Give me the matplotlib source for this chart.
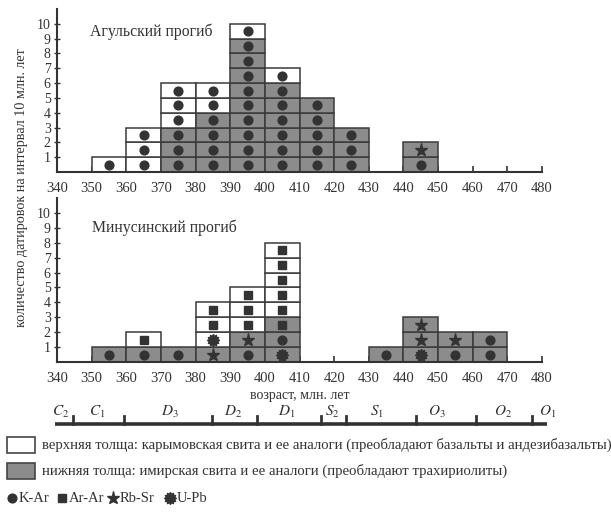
import numpy as np
import matplotlib
matplotlib.use('Agg')
import matplotlib.pyplot as plt
from matplotlib.path import Path

plt.rcParams['font.family'] = ['Liberation Serif', 'DejaVu Serif']
plt.rcParams['mathtext.fontset'] = 'stix'

# --- data: bins (left edge, Ma), lower/upper sequence counts, dating method per cell (bottom -> top)
# K = K-Ar, A = Ar-Ar, R = Rb-Sr, U = U-Pb
agul_bins = [350, 360, 370, 380, 390, 400, 410, 420, 440]
agul_lower = [0, 0, 3, 4, 9, 6, 5, 3, 2]
agul_upper = [1, 3, 3, 2, 1, 1, 0, 0, 0]
agul_methods = ['K', 'KKK', 'KKKKKK', 'KKKKKK', 'KKKKKKKKKK', 'KKKKKKK', 'KKKKK', 'KKK', 'KR']

minus_bins = [350, 360, 370, 380, 390, 400, 430, 440, 450, 460]
minus_lower = [1, 1, 1, 1, 2, 3, 1, 3, 2, 2]
minus_upper = [0, 1, 0, 3, 3, 5, 0, 0, 0, 0]
minus_methods = ['K', 'KA', 'K', 'RUAA', 'KRAAA', 'UKAAAAAA', 'K', 'URR', 'KR', 'KK']

x_ticks = list(range(340, 481, 10))
y_ticks = list(range(1, 11))

# geological time scale, drawn schematically under the age axis
scale_start, scale_end = 339.4, 481.4
scale_ticks = [344.6, 359.3, 384.7, 397.7, 416.2, 423.4, 443.6, 460.9, 477.1]
scale_labels = ['C_2', 'C_1', 'D_3', 'D_2', 'D_1', 'S_2', 'S_1', 'O_3', 'O_2', 'O_1']
scale_label_x = [340.9, 351.5, 372.6, 390.8, 406.4, 419.6, 432.4, 449.7, 468.7, 481.6]

gray = '#8c8c8c'
edge = '#3a3a3a'
mark = '#333333'

# U-Pb "gear" marker
ang = np.linspace(0, 2 * np.pi, 25)[:-1]
rad = np.where(np.arange(24) % 2 == 0, 1.0, 0.72)
upb_verts = np.column_stack([rad * np.cos(ang), rad * np.sin(ang)])
upb_marker = Path(np.vstack([upb_verts, upb_verts[:1]]), closed=True)

marker_style = {
    'K': dict(marker='o', ms=6.3),
    'A': dict(marker='s', ms=5.6),
    'R': dict(marker='*', ms=9.5),
    'U': dict(marker=upb_marker, ms=8.5),
}

W, H = 611, 515
fig = plt.figure(figsize=(W / 100, H / 100), dpi=100)


def px_axes(left, top, right, bottom):
    return [left / W, 1 - bottom / H, (right - left) / W, (bottom - top) / H]


def draw_panel(ax, bins, lower, upper, methods, title, tx, ty):
    for b, lo, up, meth in zip(bins, lower, upper, methods):
        for k in range(lo + up):
            face = gray if k < lo else 'white'
            ax.bar(b + 5, 1, bottom=k, width=10, color=face, edgecolor=edge,
                   linewidth=1.1, zorder=2)
            st = marker_style[meth[k]]
            ax.plot(b + 5, k + 0.5, linestyle='none', color=mark, mec=mark,
                    zorder=3, **st)
    ax.set_xlim(340, 480)
    ax.set_ylim(0, 11)
    ax.spines['top'].set_visible(False)
    ax.spines['right'].set_visible(False)
    ax.spines['left'].set_bounds(0, 11)
    ax.spines['bottom'].set_bounds(340, 480)
    for s in ('left', 'bottom'):
        ax.spines[s].set_linewidth(1.5)
        ax.spines[s].set_color('#333333')
    ax.set_xticks(x_ticks)
    ax.set_yticks(y_ticks)
    ax.tick_params(axis='x', direction='in', length=4, width=1.2, labelsize=10.5,
                   colors='#333333', pad=7)
    ax.tick_params(axis='y', direction='inout', length=5, width=1.0, labelsize=10,
                   colors='#333333', pad=2)
    ax.text(tx, ty, title, fontsize=11.3, color='#333333', ha='left', va='center')
    ax.patch.set_alpha(0)


ax1 = fig.add_axes(px_axes(57, 9, 542, 172))
draw_panel(ax1, agul_bins, agul_lower, agul_upper, agul_methods, 'Агульский прогиб', 349.5, 9.45)

ax2 = fig.add_axes(px_axes(57, 198, 542, 362))
draw_panel(ax2, minus_bins, minus_lower, minus_upper, minus_methods, 'Минусинский прогиб', 350, 9.0)
ax2.text(410, -2.25, 'возраст, млн. лет', fontsize=10, color='#333333', ha='center', va='center')

fig.text(22 / W, 1 - 188 / H, 'количество датировок на интервал 10 млн. лет',
         rotation=90, fontsize=10.2, color='#333333', ha='center', va='center')

# time scale
ax3 = fig.add_axes(px_axes(57, 400, 542, 430))
ax3.set_xlim(340, 480)
ax3.set_ylim(0, 1)
ax3.axis('off')
ax3.plot([scale_start, scale_end], [0.2, 0.2], color='#333333', lw=2.6,
         solid_capstyle='butt', clip_on=False)
for t in scale_ticks:
    ax3.plot([t, t], [0.2, 0.48], color='#333333', lw=2.0, clip_on=False)
for lab, lx in zip(scale_labels, scale_label_x):
    ax3.text(lx, 0.6, f'${lab}$', fontsize=11, color='#333333', ha='center', va='center')

# legend
axl = fig.add_axes([0, 0, 1, 1])
axl.set_xlim(0, W)
axl.set_ylim(H, 0)
axl.axis('off')
legend_items = [('white', 'верхняя толща: карымовская свита и ее аналоги (преобладают базальты и андезибазальты)'),
                (gray, 'нижняя толща: имирская свита и ее аналоги (преобладают трахириолиты)')]
for (face, txt), yc in zip(legend_items, [445, 471]):
    axl.add_patch(plt.Rectangle((7, yc - 8), 28, 16, facecolor=face, edgecolor='#444444', lw=1.2))
    axl.text(42, yc, txt, fontsize=10.6, color='#333333', va='center', ha='left')

method_names = [('K', 'K-Ar'), ('A', 'Ar-Ar'), ('R', 'Rb-Sr'), ('U', 'U-Pb')]
xpos = [12, 62, 113, 170]
for (code, name), xp in zip(method_names, xpos):
    st = dict(marker_style[code])
    axl.plot(xp, 498, linestyle='none', color=mark, mec=mark, **st)
    axl.text(xp + 7, 498, name, fontsize=10.5, color='#333333', va='center', ha='left')

fig.savefig('out.png', dpi=100)
